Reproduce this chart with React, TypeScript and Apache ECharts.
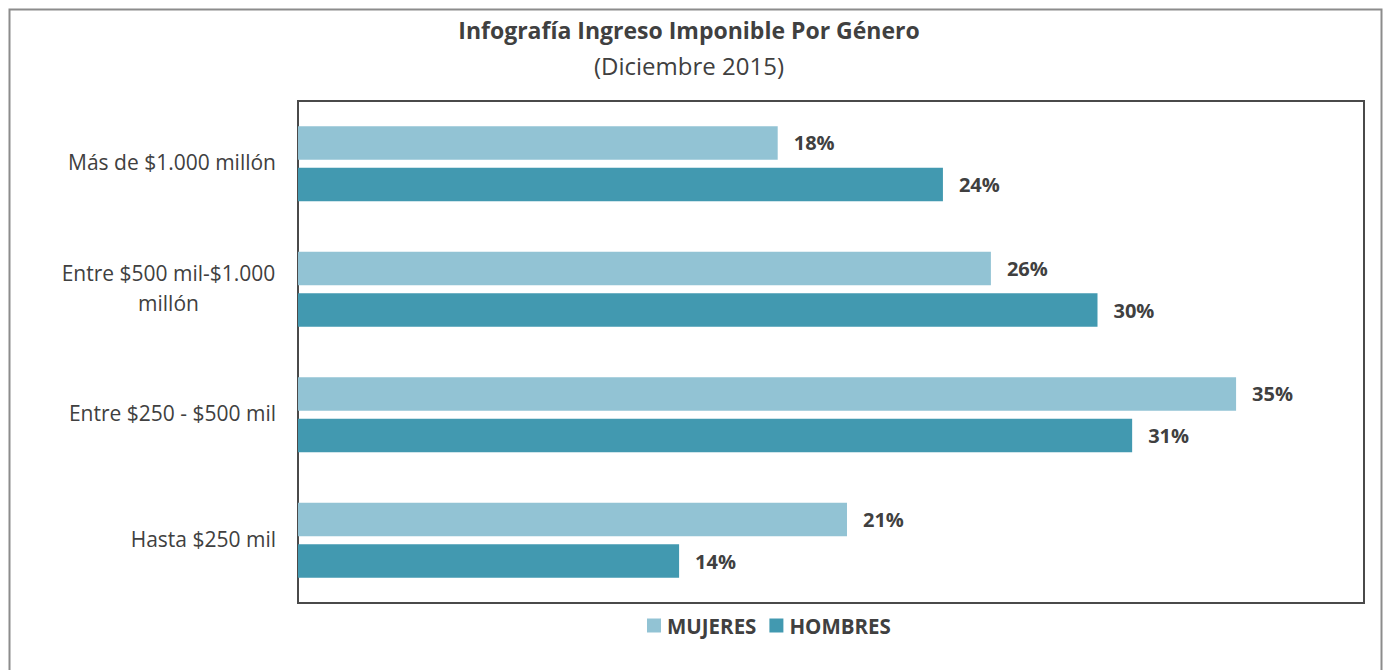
import React, { useEffect, useRef } from "react";
import * as echarts from "echarts";

const categories = [
  "Más de $1.000 millón",
  "Entre $500 mil-$1.000\nmillón",
  "Entre $250 - $500 mil",
  "Hasta $250 mil",
];
const mujeres = [18.0, 26.0, 35.2, 20.6];
const hombres = [24.2, 30.0, 31.3, 14.3];
const seriesNames = ["MUJERES", "HOMBRES"];

const FONT = "Open Sans";
const TXT = "#404040";

export default function App() {
  const ref = useRef<HTMLDivElement>(null);
  useEffect(() => {
    if (!ref.current) return;
    const chart = echarts.init(ref.current, undefined, { renderer: "svg" });
    chart.setOption({
      animation: false,
      backgroundColor: "#ffffff",
      textStyle: { fontFamily: FONT },
      title: [
        {
          text: "Infografía Ingreso Imponible Por Género",
          left: 684,
          top: 13,
          textAlign: "center",
          textStyle: { fontFamily: FONT, fontSize: 23, fontWeight: "bold", color: TXT },
        },
        {
          text: "(Diciembre 2015)",
          left: 684,
          top: 48,
          textAlign: "center",
          textStyle: { fontFamily: FONT, fontSize: 24, fontWeight: "normal", color: TXT },
        },
      ],
      graphic: [
        {
          type: "rect",
          shape: { x: 9.5, y: 9.5, width: 1372, height: 700 },
          style: { fill: "none", stroke: "#8c8c8c", lineWidth: 2 },
          silent: true,
          z: -1,
        },
      ],
      legend: {
        data: seriesNames,
        left: 642,
        top: 610,
        itemWidth: 14,
        itemHeight: 14,
        itemGap: 13,
        icon: "rect",
        textStyle: { fontFamily: FONT, fontSize: 20.5, fontWeight: "bold", color: TXT, padding: [0, 0, 0, 1] },
      },
      grid: {
        left: 298,
        top: 101,
        width: 1066,
        height: 502,
        show: true,
        borderColor: "#4a4a4a",
        borderWidth: 2,
        containLabel: false,
      },
      xAxis: {
        type: "value",
        min: 0,
        max: 40,
        show: false,
        splitLine: { show: false },
      },
      yAxis: {
        type: "category",
        inverse: true,
        data: categories,
        axisLine: { show: false },
        axisTick: { show: false },
        axisLabel: {
          margin: 22,
          fontFamily: FONT,
          fontSize: 21,
          color: TXT,
          lineHeight: 30,
          padding: [0, 0, 3, 0],
          formatter: (v: string) =>
            v.includes("\n")
              ? v
                  .split("\n")
                  .map((l) => "{c|" + l + "}")
                  .join("\n")
              : v,
          rich: {
            c: {
              width: 215,
              align: "center",
              fontFamily: FONT,
              fontSize: 21,
              color: TXT,
              lineHeight: 30,
            },
          },
        },
      },
      series: [
        {
          name: seriesNames[0],
          type: "bar",
          data: mujeres,
          barWidth: 33.5,
          barGap: "24%",
          itemStyle: { color: "#92c3d4" },
          label: {
            show: true,
            position: "right",
            distance: 16,
            formatter: (p: any) => Math.round(p.value) + "%",
            fontFamily: FONT,
            fontSize: 20,
            fontWeight: "bold",
            color: TXT,
          },
        },
        {
          name: seriesNames[1],
          type: "bar",
          data: hombres,
          barWidth: 33.5,
          barGap: "24%",
          itemStyle: { color: "#4299b0" },
          label: {
            show: true,
            position: "right",
            distance: 16,
            formatter: (p: any) => Math.round(p.value) + "%",
            fontFamily: FONT,
            fontSize: 20,
            fontWeight: "bold",
            color: TXT,
          },
        },
      ],
    });
    return () => chart.dispose();
  }, []);
  return (
    <div
      ref={ref}
      style={{ position: "fixed", left: 0, top: 0, width: 1388, height: 670 }}
    />
  );
}
